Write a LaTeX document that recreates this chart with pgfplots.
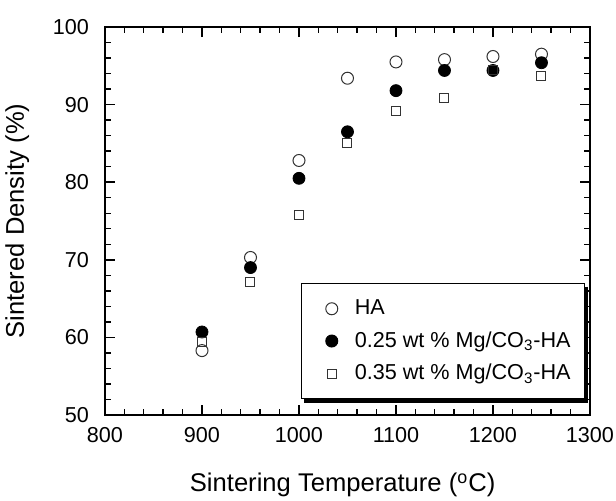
\documentclass[border=0pt]{standalone}
\usepackage{fontspec}
\setmainfont{Liberation Sans}
\usepackage{pgfplots}
\pgfplotsset{compat=1.18}
\usetikzlibrary{calc}

\pgfplotstableread{
T     HA    MgA   MgB
900   58.3  60.7  59.4
950   70.3  69.0  67.1
1000  82.8  80.5  75.8
1050  93.4  86.5  85.1
1100  95.5  91.8  89.2
1150  95.8  94.4  90.8
1200  96.2  94.4  94.4
1250  96.5  95.4  93.7
}\density

\begin{document}
\begin{tikzpicture}
\begin{axis}[
    scale only axis,
    width=242.5pt, height=194pt,
    xmin=800, xmax=1300, ymin=50, ymax=100,
    xtick={800,900,...,1300},
    ytick={50,60,...,100},
    minor x tick num=4, minor y tick num=4,
    tick align=inside,
    major tick length=5pt, minor tick length=2.8pt,
    axis line style={line width=0.75pt},
    major tick style={draw=black, line width=0.8pt},
    minor tick style={draw=black, line width=0.7pt},
    % short inward ticks on both sides, drawn as dashed grid lines
    grid=both,
    major x grid style={black, line width=0.8pt, dash pattern=on 5pt off 184pt on 5pt off 50pt},
    minor x grid style={black, line width=0.7pt, dash pattern=on 2.8pt off 188.4pt on 2.8pt off 50pt},
    major y grid style={black, line width=0.8pt, dash pattern=on 5pt off 232.5pt on 5pt off 50pt},
    minor y grid style={black, line width=0.7pt, dash pattern=on 2.8pt off 236.9pt on 2.8pt off 50pt},
    tick label style={font=\fontsize{10.8}{13}\selectfont},
    xticklabel style={yshift=-2.5pt},
    yticklabel style={xshift=-4.5pt},
    /pgf/number format/assume math mode=true,
    /pgf/number format/1000 sep={},
    xlabel={Sintering Temperature (\textsuperscript{o}C)},
    ylabel={Sintered Density (\%)},
    label style={font=\fontsize{12.8}{15}\selectfont},
    xlabel style={at={(axis description cs:0.49,-0.198)}, anchor=base},
    ylabel style={at={(axis description cs:-0.142,0.5)}, anchor=south, rotate=0},
    legend style={name=leg, at={(rel axis cs:0.99,0.04)}, anchor=south east,
        font=\fontsize{10.8}{13}\selectfont, draw=black, line width=0.5pt,
        fill=white, inner xsep=5pt, inner ysep=6pt, row sep=3pt},
    legend cell align=left,
    legend image code/.code={\path[draw=none] (0pt,0pt) -- (19.5pt,0pt);
        \draw[#1] plot coordinates {(10pt,0pt)};},
]
\addplot[only marks, mark=o, mark size=3pt, mark options={line width=0.5pt, draw=black!80}] table[x=T, y=HA] {\density};
\addplot[only marks, mark=*, mark size=3pt, mark options={fill=black, draw=black}] table[x=T, y=MgA] {\density};
\addplot[only marks, mark=square, mark size=2.25pt, mark options={line width=0.5pt, draw=black!80}] table[x=T, y=MgB] {\density};
\legend{HA, 0.25 wt \% Mg/CO\textsubscript{3}-HA, 0.35 wt \% Mg/CO\textsubscript{3}-HA}
\end{axis}
\draw[line width=1.6pt, black]
    ($(leg.north east)+(0.8pt,-1.6pt)$) -- ($(leg.south east)+(0.8pt,-0.8pt)$)
    -- ($(leg.south west)+(1.6pt,-0.8pt)$);
\pgfresetboundingbox
\path (-52.5pt,-42.5pt) rectangle (255.5pt,207.5pt);
\end{tikzpicture}
\end{document}
